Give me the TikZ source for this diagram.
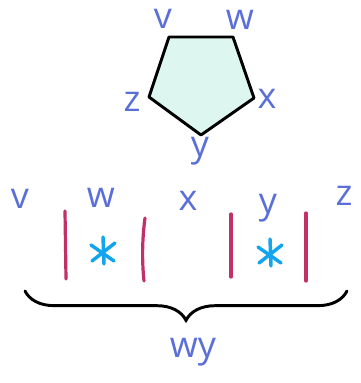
\documentclass[tikz,border=0pt]{standalone}
\usepackage{fontspec}
\setmainfont{Open Sans}
\usetikzlibrary{decorations.pathreplacing}
\definecolor{penblue}{HTML}{5B6FD9}
\definecolor{barred}{HTML}{C2306A}
\definecolor{starblue}{HTML}{12A4EC}
\definecolor{mint}{HTML}{DDF6F0}
\begin{document}
\begin{tikzpicture}[x=0.75pt,y=-0.75pt,
  lbl/.style={text=penblue,font=\fontsize{27}{27}\selectfont,inner sep=0pt},
  bar/.style={draw=barred,line width=2.4pt,line cap=round},
  star/.style={draw=starblue,line width=2.6pt,line cap=round}]
\useasboundingbox (0,0) rectangle (361,383);
% pentagon
\coordinate (v) at (169,37);
\coordinate (w) at (233,37);
\coordinate (x) at (254,98);
\coordinate (y) at (201,135);
\coordinate (z) at (149,97);
\draw[line width=2.2pt,line join=round,fill=mint] (v) -- (w) -- (x) -- (y) -- (z) -- cycle;
\node[lbl] (lv) at (163,19) {v};
\node[lbl] (lw) at (240,20) {w};
\node[lbl] (lx) at (267,99) {x};
\node[lbl] (ly) at (200,151) {y};
\node[lbl] (lz) at (132,102) {z};
% row of letters
\node[lbl] (rv) at (20,199) {v};
\node[lbl] (rw) at (101,198) {w};
\node[lbl] (rx) at (188,201) {x};
\node[lbl] (ry) at (268,208) {y};
\node[lbl] (rz) at (344,196) {z};
% bars
\draw[bar] (65,211) -- (66,279);
\draw[bar] (145,218) .. controls (142,240) and (142,262) .. (144,281);
\draw[bar] (231,214) -- (231,277);
\draw[bar] (306,213) -- (306,281);
% stars
\foreach \cx/\cy in {103/251,270/253}{
  \draw[star] (\cx,\cy-14) -- (\cx+1,\cy+13);
  \draw[star] (\cx-12,\cy-6) -- (\cx+11,\cy+10);
  \draw[star] (\cx+12,\cy-8) -- (\cx-11,\cy+10);
}
% brace
\coordinate (bl) at (25,291);
\coordinate (br) at (347,291);
\draw[line width=2.2pt,line cap=round,decorate,decoration={brace,mirror,amplitude=22pt,aspect=0.5}] (bl) -- (br);
\node[lbl] (wy) at (193,352) {wy};
\end{tikzpicture}
\end{document}
